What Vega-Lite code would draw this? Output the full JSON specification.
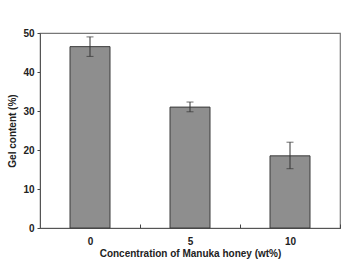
{
  "$schema": "https://vega.github.io/schema/vega-lite/v6.json",
  "autosize": {"type": "none"},
  "padding": {"left": 40, "top": 33, "right": 5, "bottom": 37},
  "width": 300,
  "height": 195,
  "config": {
    "font": "Liberation Sans",
    "view": {"stroke": "#777777", "strokeWidth": 1.2},
    "axis": {"domainColor": "#555555", "tickColor": "#444444", "labelColor": "#222222", "titleColor": "#222222", "labelFont": "Liberation Sans", "titleFont": "Liberation Sans", "grid": false}
  },
  "data": {"values": [
    {"conc": "0", "gel": 46.5, "lo": 44.0, "hi": 49.0},
    {"conc": "5", "gel": 31.0, "lo": 29.8, "hi": 32.3},
    {"conc": "10", "gel": 18.5, "lo": 15.2, "hi": 22.0}
  ]},
  "encoding": {
    "x": {"field": "conc", "type": "ordinal", "sort": ["0", "5", "10"],
          "scale": {"paddingInner": 0.6, "paddingOuter": 0.3},
          "axis": {"title": "Concentration of Manuka honey (wt%)", "labelAngle": 0, "labelFontSize": 10, "labelFontWeight": "bold", "titleFontSize": 10, "titleFontWeight": "bold", "ticks": true, "tickSize": -4, "bandPosition": 0.5, "tickOffset": 50, "labelOffset": -50, "labelPadding": 12, "titlePadding": 2, "domain": true}}
  },
  "layer": [
    {
      "mark": {"type": "bar", "color": "#8e8e8e", "stroke": "#3a3a3a", "strokeWidth": 1},
      "encoding": {
        "y": {"field": "gel", "type": "quantitative",
              "scale": {"domain": [0, 50]},
              "axis": {"title": "Gel content (%)", "values": [0, 10, 20, 30, 40, 50], "labelOverlap": false, "labelFontSize": 10, "labelFontWeight": "bold", "titleFontSize": 10, "titleFontWeight": "bold", "tickSize": 3, "labelPadding": 3, "titlePadding": 5}}
      }
    },
    {
      "mark": {"type": "rule", "color": "#333333", "strokeWidth": 1},
      "encoding": {
        "y": {"field": "lo", "type": "quantitative",
              "axis": {"title": "Gel content (%)", "values": [0, 10, 20, 30, 40, 50], "labelOverlap": false, "labelFontSize": 10, "labelFontWeight": "bold", "titleFontSize": 10, "titleFontWeight": "bold", "tickSize": 3, "labelPadding": 3, "titlePadding": 5}},
        "y2": {"field": "hi"}
      }
    },
    {
      "mark": {"type": "tick", "color": "#333333", "thickness": 1, "size": 7},
      "encoding": {
        "y": {"field": "lo", "type": "quantitative",
              "axis": {"title": "Gel content (%)", "values": [0, 10, 20, 30, 40, 50], "labelOverlap": false, "labelFontSize": 10, "labelFontWeight": "bold", "titleFontSize": 10, "titleFontWeight": "bold", "tickSize": 3, "labelPadding": 3, "titlePadding": 5}}
      }
    },
    {
      "mark": {"type": "tick", "color": "#333333", "thickness": 1, "size": 7},
      "encoding": {
        "y": {"field": "hi", "type": "quantitative",
              "axis": {"title": "Gel content (%)", "values": [0, 10, 20, 30, 40, 50], "labelOverlap": false, "labelFontSize": 10, "labelFontWeight": "bold", "titleFontSize": 10, "titleFontWeight": "bold", "tickSize": 3, "labelPadding": 3, "titlePadding": 5}}
      }
    }
  ]
}
